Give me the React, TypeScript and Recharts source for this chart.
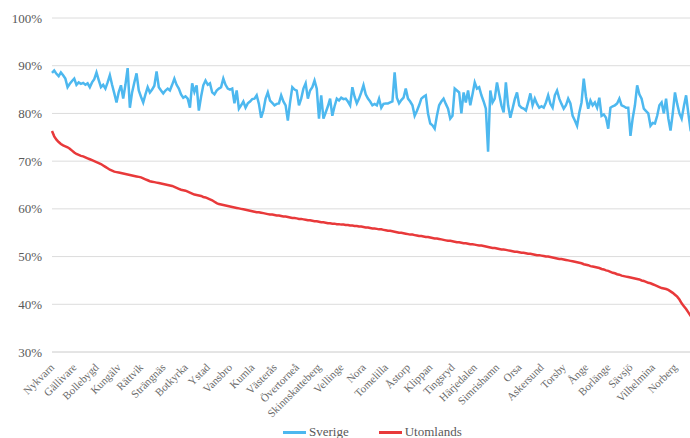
import { LineChart, Line, XAxis, YAxis, CartesianGrid, Legend } from "recharts";

// Labels shown on every 10th kommun (the chart holds 290 kommuner)
const tickLabels = [
  "Nykvarn", "Gällivare", "Bollebygd", "Kungälv", "Rättvik", "Strängnäs",
  "Botkyrka", "Ystad", "Vansbro", "Kumla", "Västerås", "Övertorneå",
  "Skinnskatteberg", "Vellinge", "Nora", "Tomelilla", "Åstorp", "Klippan",
  "Tingsryd", "Härjedalen", "Simrishamn", "Orsa", "Askersund", "Torsby",
  "Ånge", "Borlänge", "Sävsjö", "Vilhelmina", "Norberg",
];

const sverige = [
  88.5, 89.0, 88.3, 87.8, 88.6, 88.0, 87.3, 85.5, 86.2, 86.8,
  87.3, 86.0, 86.5, 86.2, 86.4, 86.0, 86.3, 85.5, 86.5, 87.2,
  88.6, 87.0, 85.5, 86.0, 85.2, 86.5, 88.0, 86.0, 84.2, 82.3,
  84.5, 85.9, 83.1, 86.0, 89.5, 81.2, 84.4, 86.5, 88.4, 84.8,
  83.5, 82.3, 84.0, 85.5, 84.4, 85.0, 85.8, 88.8, 85.5, 84.8,
  84.2, 84.8, 85.2, 84.8, 86.0, 87.3, 86.0, 85.2, 84.0, 83.3,
  83.6, 83.1, 81.2, 86.3, 84.5, 85.9, 80.6, 83.5, 85.9, 86.9,
  86.0, 86.3, 84.4, 84.0, 84.8, 85.2, 85.5, 87.3, 86.0, 85.2,
  85.0, 85.2, 82.1, 84.8, 81.0, 81.7, 82.5, 81.2, 82.1, 82.5,
  83.0, 83.1, 83.8, 82.0, 79.1, 80.6, 83.1, 84.4, 82.7, 82.2,
  81.7, 82.0, 82.1, 83.8, 82.5, 81.7, 78.5, 82.3, 85.5, 85.0,
  84.8, 81.7, 83.1, 85.2, 86.3, 83.1, 84.8, 85.5, 86.9, 85.2,
  78.9, 83.8, 78.9, 80.2, 81.5, 83.1, 79.5, 81.5, 83.1, 82.7,
  83.3, 83.0, 83.1, 82.5, 81.7, 85.5, 83.5, 82.1, 83.1, 84.4,
  85.9, 84.0, 83.1, 82.5, 81.7, 82.0, 81.7, 83.1, 81.2, 82.0,
  82.1, 82.1, 82.3, 82.5, 88.6, 83.3, 82.1, 82.8, 83.3, 85.2,
  83.1, 82.5, 81.7, 79.5, 80.5, 81.7, 83.1, 83.5, 83.8, 80.0,
  77.9, 77.5, 76.8, 79.5, 81.7, 82.5, 83.1, 82.0, 81.0, 78.9,
  79.5, 85.2, 84.8, 84.4, 80.0, 84.4, 82.3, 84.8, 81.7, 84.0,
  86.5, 85.2, 85.5, 83.8, 82.5, 81.0, 72.0, 84.8, 82.3, 83.1,
  86.5, 84.0, 81.7, 80.2, 86.5, 81.7, 79.1, 81.0, 83.0, 84.4,
  81.7, 81.2, 81.0, 80.6, 82.3, 84.2, 81.7, 83.1, 82.0, 81.2,
  81.5, 81.2, 82.3, 83.8, 82.0, 81.2, 83.8, 84.8, 83.1, 82.0,
  81.0, 81.7, 83.1, 82.1, 79.5, 78.5, 77.4, 80.2, 82.3, 87.3,
  83.5, 81.0, 82.7, 81.7, 82.3, 81.2, 83.3, 79.5, 79.8, 79.1,
  76.8, 81.2, 81.5, 81.7, 82.1, 83.1, 81.7, 81.5, 81.2, 81.2,
  75.3, 79.0, 81.7, 85.9, 84.0, 83.1, 81.0, 80.5, 80.0, 77.4,
  78.0, 77.9, 79.5, 81.7, 82.3, 80.0, 83.1, 79.0, 76.4, 80.0,
  84.4, 82.0, 80.0, 78.9, 81.5, 83.8, 80.0, 76.5, 75.5, 74.9,
];

const utomlands = [
  76.3, 75.2, 74.5, 74.0, 73.6, 73.3, 73.1, 72.9, 72.6, 72.2,
  71.8, 71.5, 71.3, 71.1, 71.0, 70.8, 70.6, 70.4, 70.2, 70.0,
  69.8, 69.6, 69.4, 69.1, 68.8, 68.5, 68.2, 68.0, 67.8, 67.7,
  67.6, 67.5, 67.4, 67.3, 67.2, 67.1, 67.0, 66.9, 66.8, 66.7,
  66.6, 66.4, 66.2, 66.0, 65.8, 65.7, 65.6, 65.5, 65.4, 65.3,
  65.2, 65.1, 65.0, 64.9, 64.8, 64.6, 64.4, 64.2, 64.0, 63.9,
  63.8, 63.6, 63.4, 63.2, 63.0, 62.9, 62.8, 62.7, 62.5, 62.4,
  62.2, 62.0, 61.8, 61.5, 61.2, 61.0, 60.9, 60.8, 60.7, 60.6,
  60.5, 60.4, 60.3, 60.2, 60.1, 60.0, 59.9, 59.8, 59.7, 59.6,
  59.5, 59.4, 59.3, 59.3, 59.2, 59.1, 59.0, 58.9, 58.8, 58.8,
  58.7, 58.6, 58.6, 58.5, 58.4, 58.4, 58.3, 58.2, 58.1, 58.1,
  58.0, 57.9, 57.9, 57.8, 57.7, 57.6, 57.6, 57.5, 57.4, 57.4,
  57.3, 57.2, 57.2, 57.1, 57.0, 57.0, 56.9, 56.9, 56.8, 56.8,
  56.7, 56.7, 56.6, 56.6, 56.5, 56.5, 56.4, 56.4, 56.3, 56.3,
  56.2, 56.1, 56.1, 56.0, 55.9, 55.9, 55.8, 55.7, 55.7, 55.6,
  55.5, 55.4, 55.4, 55.3, 55.2, 55.1, 55.0, 55.0, 54.9, 54.8,
  54.7, 54.6, 54.6, 54.5, 54.4, 54.3, 54.3, 54.2, 54.1, 54.1,
  54.0, 53.9, 53.8, 53.8, 53.7, 53.6, 53.5, 53.4, 53.3, 53.3,
  53.2, 53.1, 53.0, 53.0, 52.9, 52.8, 52.8, 52.7, 52.6, 52.6,
  52.5, 52.4, 52.3, 52.3, 52.2, 52.1, 52.0, 51.9, 51.8, 51.8,
  51.7, 51.6, 51.5, 51.5, 51.4, 51.3, 51.2, 51.1, 51.0, 51.0,
  50.9, 50.8, 50.8, 50.7, 50.6, 50.6, 50.5, 50.4, 50.3, 50.3,
  50.2, 50.1, 50.0, 50.0, 49.9, 49.8, 49.7, 49.6, 49.5, 49.5,
  49.4, 49.3, 49.2, 49.1, 49.0, 48.9, 48.8, 48.7, 48.6, 48.4,
  48.3, 48.2, 48.0, 47.9, 47.8, 47.7, 47.6, 47.4, 47.3, 47.1,
  47.0, 46.8, 46.6, 46.5, 46.3, 46.2, 46.0, 45.9, 45.8, 45.7,
  45.6, 45.5, 45.4, 45.3, 45.2, 45.0, 44.9, 44.7, 44.5, 44.4,
  44.2, 44.0, 43.8, 43.6, 43.4, 43.3, 43.2, 43.0, 42.7, 42.4,
  42.0, 41.6, 41.0, 40.2, 39.6, 39.0, 38.3, 37.6, 37.0, 36.5,
];

const yTicks = [30, 40, 50, 60, 70, 80, 90, 100];

const BLUE = "#4db8ef";
const RED = "#e8393a";
const SERIF = "'Liberation Serif', 'Times New Roman', serif";

const data = sverige.map((v, i) => ({ idx: i, sverige: v, utomlands: utomlands[i] }));

// rotated kommun label, text ends just right of the tick
function KommunTick(props: any) {
  const { x, y, payload } = props;
  const label = tickLabels[Math.round(payload.value / 10)] || "";
  const ax = x + 3;
  const ay = y + 8;
  return (
    <text
      x={ax}
      y={ay}
      transform={`rotate(-45, ${ax}, ${ay})`}
      textAnchor="end"
      fontSize={11}
      fontFamily={SERIF}
      fill="#6b6b6b"
    >
      {label}
    </text>
  );
}

function LegendContent() {
  const item = (color: string, text: string) => (
    <div style={{ display: "flex", alignItems: "center", marginRight: 30 }}>
      <div style={{ width: 23, height: 3, background: color, marginRight: 3 }} />
      <span style={{ fontFamily: SERIF, fontSize: 13, color: "#595959" }}>{text}</span>
    </div>
  );
  return (
    <div style={{ display: "flex", alignItems: "center" }}>
      {item(BLUE, "Sverige")}
      {item(RED, "Utomlands")}
    </div>
  );
}

export default function App() {
  return (
    <div
      style={{
        position: "fixed",
        left: 0,
        top: 0,
        width: 690,
        height: 438,
        overflow: "hidden",
        background: "#fff",
      }}
    >
      <LineChart
        width={695}
        height={438}
        data={data}
        margin={{ top: 18, right: 0, left: 0, bottom: 0 }}
      >
        <CartesianGrid vertical={false} stroke="#dcdcdc" />
        <XAxis
          dataKey="idx"
          type="category"
          interval={9}
          tick={<KommunTick />}
          tickLine={false}
          axisLine={{ stroke: "#dcdcdc" }}
          height={66}
        />
        <YAxis
          domain={[30, 100]}
          ticks={yTicks}
          width={52}
          axisLine={false}
          tickLine={false}
          tickMargin={4}
          tickFormatter={(v: any) => `${v}%`}
          tick={{ fontSize: 13, fontFamily: SERIF, fill: "#595959" }}
        />
        <Legend
          verticalAlign="bottom"
          content={<LegendContent />}
          wrapperStyle={{ left: 283, width: 300, bottom: -6, height: 20 }}
        />
        <Line
          type="linear"
          dataKey="sverige"
          name="Sverige"
          stroke={BLUE}
          strokeWidth={2.5}
          dot={false}
          isAnimationActive={false}
        />
        <Line
          type="linear"
          dataKey="utomlands"
          name="Utomlands"
          stroke={RED}
          strokeWidth={2.5}
          dot={false}
          isAnimationActive={false}
        />
      </LineChart>
    </div>
  );
}
